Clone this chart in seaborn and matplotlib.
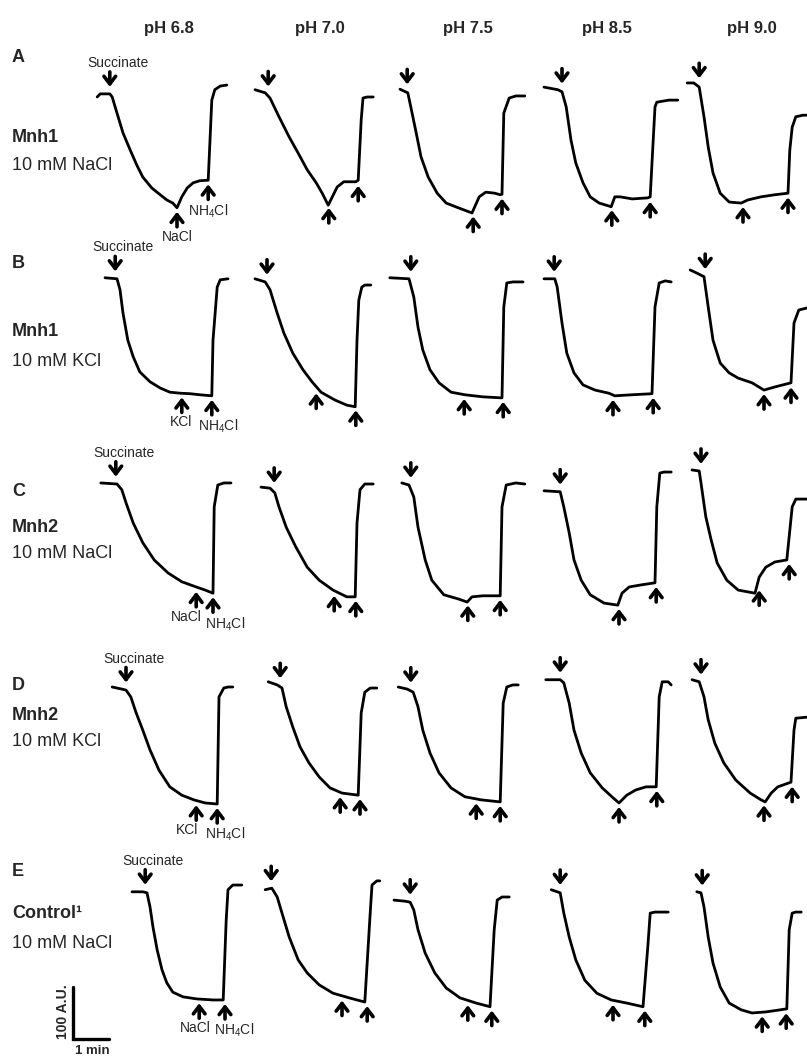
import numpy as np
import pandas as pd
import matplotlib
matplotlib.use("Agg")
import matplotlib.pyplot as plt
import seaborn as sns

# ---------------- data (time in s, fluorescence in A.U.) ----------------
PH_LABELS = ["pH 6.8", "pH 7.0", "pH 7.5", "pH 8.5", "pH 9.0"]
ROW_LETTERS = ["A", "B", "C", "D", "E"]
ROW_NAMES = ["Mnh1", "Mnh1", "Mnh2", "Mnh2", "Control\u00b9"]
ROW_CONDS = ["10 mM NaCl", "10 mM KCl", "10 mM NaCl", "10 mM KCl", "10 mM NaCl"]
ROW_SALTS = ["NaCl", "KCl", "NaCl", "KCl", "NaCl"]

A1_t = [12, 17, 33, 37, 45, 55, 67, 78, 88, 103, 117, 128, 138, 145, 153, 162, 172, 183, 197, 200, 203, 208, 217, 228]
A1_f = [275, 281, 281, 275, 244, 206, 173, 144, 121, 100, 87, 77, 71, 62, 83, 100, 110, 114, 115, 192, 269, 289, 296, 298]
A2_t = [25, 42, 50, 65, 82, 97, 112, 127, 137, 147, 162, 173, 193, 197, 202, 205, 212, 222]
A2_f = [289, 283, 273, 237, 198, 167, 135, 110, 90, 67, 102, 112, 112, 115, 231, 273, 275, 275]
A3_t = [25, 38, 43, 52, 60, 72, 87, 102, 122, 145, 157, 168, 183, 192, 195, 198, 207, 218, 233]
A3_f = [290, 283, 256, 206, 160, 121, 90, 71, 62, 52, 83, 92, 90, 87, 88, 244, 273, 277, 277]
A4_t = [15, 38, 45, 52, 60, 68, 80, 92, 107, 127, 133, 142, 162, 188, 192, 197, 200, 203, 223, 238]
A4_f = [294, 289, 285, 256, 192, 148, 110, 83, 71, 64, 83, 83, 79, 81, 83, 192, 256, 265, 269, 269]
A5_t = [12, 23, 32, 40, 47, 55, 67, 82, 102, 113, 135, 158, 180, 183, 187, 193, 205, 212]
A5_f = [302, 302, 294, 237, 179, 129, 90, 73, 71, 77, 83, 87, 90, 173, 217, 237, 240, 240]

B1_t = [25, 45, 50, 55, 63, 72, 83, 100, 117, 133, 150, 167, 183, 203, 205, 212, 217, 230]
B1_f = [312, 310, 289, 244, 192, 160, 131, 112, 100, 92, 90, 89, 87, 85, 192, 294, 308, 310]
B2_t = [25, 42, 50, 62, 73, 88, 105, 120, 135, 158, 178, 192, 195, 198, 203, 208, 218]
B2_f = [310, 304, 289, 244, 206, 167, 135, 112, 92, 77, 67, 64, 192, 269, 294, 298, 298]
B3_t = [8, 40, 48, 55, 63, 75, 90, 110, 133, 163, 195, 198, 203, 213, 230]
B3_f = [312, 310, 275, 217, 173, 135, 110, 92, 87, 83, 81, 256, 302, 304, 304]
B4_t = [15, 33, 37, 45, 53, 65, 80, 100, 123, 133, 162, 195, 200, 207, 217, 227]
B4_f = [310, 310, 294, 225, 167, 129, 106, 96, 90, 85, 87, 89, 256, 302, 306, 304]
B5_t = [17, 28, 40, 47, 55, 67, 82, 97, 120, 140, 158, 185, 190, 198, 212]
B5_f = [327, 321, 314, 256, 192, 148, 129, 119, 110, 96, 102, 110, 225, 250, 254]

C1_t = [18, 45, 53, 60, 72, 88, 107, 130, 153, 177, 192, 205, 207, 213, 223, 235]
C1_f = [302, 300, 289, 264, 225, 187, 154, 129, 112, 102, 96, 90, 256, 298, 302, 302]
C2_t = [35, 50, 58, 65, 77, 93, 112, 132, 155, 178, 192, 195, 200, 208, 222]
C2_f = [294, 292, 283, 256, 217, 179, 140, 115, 96, 83, 83, 225, 289, 300, 300]
C3_t = [28, 40, 48, 55, 67, 78, 98, 122, 137, 145, 163, 192, 195, 202, 218, 233]
C3_f = [302, 298, 275, 217, 154, 115, 87, 79, 73, 83, 85, 85, 256, 298, 302, 300]
C4_t = [15, 42, 48, 57, 65, 77, 92, 115, 138, 145, 157, 177, 200, 203, 208, 215, 227]
C4_f = [287, 285, 256, 206, 154, 115, 87, 71, 67, 90, 102, 106, 110, 256, 321, 323, 323]
C5_t = [20, 32, 35, 43, 52, 62, 78, 97, 125, 132, 143, 158, 178, 187, 193, 212]
C5_f = [327, 325, 302, 237, 192, 148, 115, 96, 90, 121, 140, 150, 154, 256, 271, 271]

D1_t = [37, 53, 60, 68, 77, 88, 100, 115, 133, 153, 173, 192, 212, 215, 223, 230, 238]
D1_f = [275, 271, 269, 256, 225, 192, 154, 115, 83, 67, 58, 52, 50, 256, 273, 275, 275]
D2_t = [47, 62, 70, 77, 88, 100, 115, 132, 150, 170, 197, 202, 208, 217, 228]
D2_f = [285, 279, 273, 237, 198, 160, 129, 102, 81, 71, 67, 225, 265, 273, 273]
D3_t = [22, 37, 47, 55, 63, 75, 90, 110, 133, 160, 192, 197, 203, 213, 222]
D3_f = [275, 271, 265, 237, 192, 148, 110, 81, 64, 58, 54, 244, 275, 279, 279]
D4_t = [18, 42, 48, 57, 65, 77, 92, 112, 130, 140, 153, 168, 185, 202, 207, 212, 222, 227]
D4_f = [289, 289, 283, 244, 192, 148, 110, 81, 62, 52, 67, 77, 83, 83, 256, 285, 285, 279]
D5_t = [20, 32, 40, 47, 58, 73, 93, 117, 135, 142, 152, 163, 185, 190, 193, 212]
D5_f = [289, 285, 256, 212, 167, 129, 96, 71, 58, 54, 71, 83, 92, 192, 215, 217]

E1_t = [70, 88, 95, 100, 105, 112, 120, 128, 138, 155, 178, 205, 222, 227, 230, 238, 253]
E1_f = [285, 285, 283, 256, 217, 173, 135, 110, 92, 83, 79, 77, 77, 231, 289, 298, 298]
E2_t = [42, 53, 62, 70, 82, 97, 112, 132, 155, 182, 208, 217, 220, 228, 233]
E2_f = [289, 292, 275, 244, 198, 154, 129, 106, 90, 81, 73, 244, 298, 306, 306]
E3_t = [15, 33, 42, 48, 55, 67, 83, 102, 125, 152, 175, 182, 187, 195, 207]
E3_f = [269, 267, 265, 250, 212, 167, 129, 100, 81, 71, 64, 212, 269, 275, 275]
E4_t = [27, 37, 42, 48, 57, 68, 83, 103, 127, 153, 180, 188, 192, 200, 222]
E4_f = [289, 285, 283, 244, 198, 154, 115, 90, 77, 71, 64, 179, 244, 246, 246]
E5_t = [28, 35, 40, 47, 55, 67, 82, 102, 120, 143, 167, 178, 182, 187, 193, 202]
E5_f = [285, 283, 256, 198, 148, 102, 71, 58, 52, 54, 58, 60, 212, 244, 246, 246]

# addition times (s): succinate, salt, NH4Cl
SUCC_T = [[33, 47, 37, 45, 32], [42, 45, 43, 32, 42], [43, 57, 43, 42, 35],
          [60, 67, 43, 42, 35], [92, 52, 42, 42, 37]]
SALT_T = [[145, 148, 147, 128, 105], [153, 127, 132, 130, 140], [177, 157, 138, 140, 132],
          [177, 167, 152, 140, 140], [182, 170, 138, 130, 137]]
NH4_T = [[197, 197, 195, 192, 180], [203, 193, 197, 197, 185], [205, 193, 192, 202, 182],
         [212, 200, 192, 203, 187], [225, 212, 178, 183, 177]]

SCALE_T = 60    # 1 min
SCALE_F = 100   # 100 A.U.

TRACES = [
    [(A1_t, A1_f), (A2_t, A2_f), (A3_t, A3_f), (A4_t, A4_f), (A5_t, A5_f)],
    [(B1_t, B1_f), (B2_t, B2_f), (B3_t, B3_f), (B4_t, B4_f), (B5_t, B5_f)],
    [(C1_t, C1_f), (C2_t, C2_f), (C3_t, C3_f), (C4_t, C4_f), (C5_t, C5_f)],
    [(D1_t, D1_f), (D2_t, D2_f), (D3_t, D3_f), (D4_t, D4_f), (D5_t, D5_f)],
    [(E1_t, E1_f), (E2_t, E2_f), (E3_t, E3_f), (E4_t, E4_f), (E5_t, E5_f)],
]

# ---------------- layout ----------------
sns.set_theme(style="white")
plt.rcParams["font.family"] = ["Liberation Sans", "DejaVu Sans"]
plt.rcParams["mathtext.default"] = "regular"
SMALL = ["Liberation Sans", "DejaVu Sans"]

FW, FH = 807, 1056
fig = plt.figure(figsize=(FW / 100, FH / 100), dpi=100)
fig.patch.set_facecolor("white")

S_PER_PX = 60 / 36.0
AU_PER_PX = 100 / 52.0
COL_X0 = [90, 240, 385, 535, 680]
ROW_YB = [240, 440, 640, 830, 1040]
AX_W, AX_H = 170, 200
PT = 0.72  # points per pixel

SALT_DX = [0, -1, -10, -9, -4]
NH4_DX = [0, 6, 12, 8, 9]
LABEL_FS = 10

ARROW = dict(arrowstyle="->,head_length=0.55,head_width=0.42", lw=2.6,
             color="black", mutation_scale=10, shrinkA=0)


def up_arrow(ax, t, T, F, label=None, dx=0):
    f = np.interp([t - 4, t, t + 4], T, F).min()
    ax.annotate("", xy=(t, f), xytext=(0, -19 * PT), textcoords="offset points",
                arrowprops=dict(ARROW, shrinkB=4 * PT))
    if label:
        ax.annotate(label, xy=(t, f), xytext=(dx * PT, -22 * PT),
                    textcoords="offset points", ha="center", va="top",
                    fontsize=LABEL_FS, family=SMALL)


def down_arrow(ax, t, T, F, label=None):
    f = np.interp([t - 4, t, t + 4], T, F).max()
    ax.annotate("", xy=(t, f), xytext=(0, 22 * PT), textcoords="offset points",
                arrowprops=dict(ARROW, shrinkB=7 * PT))
    if label:
        ax.annotate(label, xy=(t, f), xytext=(8 * PT, 24 * PT),
                    textcoords="offset points", ha="center", va="bottom",
                    fontsize=LABEL_FS, family=SMALL)


for r in range(5):
    for c in range(5):
        x0, yb = COL_X0[c], ROW_YB[r]
        ax = fig.add_axes([x0 / FW, 1 - yb / FH, AX_W / FW, AX_H / FH])
        T, F = TRACES[r][c]
        df = pd.DataFrame({"t": T, "F": F})
        sns.lineplot(data=df, x="t", y="F", ax=ax, color="black", lw=2.0,
                     estimator=None, sort=False)
        ax.set_xlim(0, AX_W * S_PER_PX)
        ax.set_ylim(0, AX_H * AU_PER_PX)
        ax.axis("off")
        first = c == 0
        down_arrow(ax, SUCC_T[r][c], T, F, "Succinate" if first else None)
        up_arrow(ax, SALT_T[r][c], T, F, ROW_SALTS[r] if first else None, SALT_DX[r])
        up_arrow(ax, NH4_T[r][c], T, F, "NH$_4$Cl" if first else None, NH4_DX[r])
        if r == 4 and c == 0:
            # scale bar
            t0 = (73 - x0) * S_PER_PX
            f0 = (yb - 1039) * AU_PER_PX
            ax.plot([t0, t0, t0 + SCALE_T], [f0 + SCALE_F, f0, f0],
                    color="black", lw=2.4, clip_on=False, solid_joinstyle="miter")

# column headers
HEAD_X = [169, 320, 468, 607, 752]
for x, lab in zip(HEAD_X, PH_LABELS):
    fig.text(x / FW, 1 - 28 / FH, lab, ha="center", va="center",
             fontsize=12, fontweight="bold")

# row labels
LETTER_Y = [57, 263, 492, 686, 872]
NAME_Y = [137, 332, 528, 715, 914]
COND_Y = [165, 361, 553, 742, 944]
for i in range(5):
    fig.text(12 / FW, 1 - LETTER_Y[i] / FH, ROW_LETTERS[i], ha="left", va="center",
             fontsize=13, fontweight="bold")
    fig.text(12 / FW, 1 - NAME_Y[i] / FH, ROW_NAMES[i], ha="left", va="center",
             fontsize=13, fontweight="bold")
    fig.text(12 / FW, 1 - COND_Y[i] / FH, ROW_CONDS[i], ha="left", va="center",
             fontsize=13)

# scale bar labels
fig.text(63 / FW, 1 - 1012 / FH, "100 A.U.", rotation=90, ha="center", va="center",
         fontsize=10, fontweight="bold")
fig.text(92 / FW, 1 - 1051 / FH, "1 min", ha="center", va="center",
         fontsize=9.5, fontweight="bold")

fig.savefig("out.png", dpi=100, facecolor="white")
